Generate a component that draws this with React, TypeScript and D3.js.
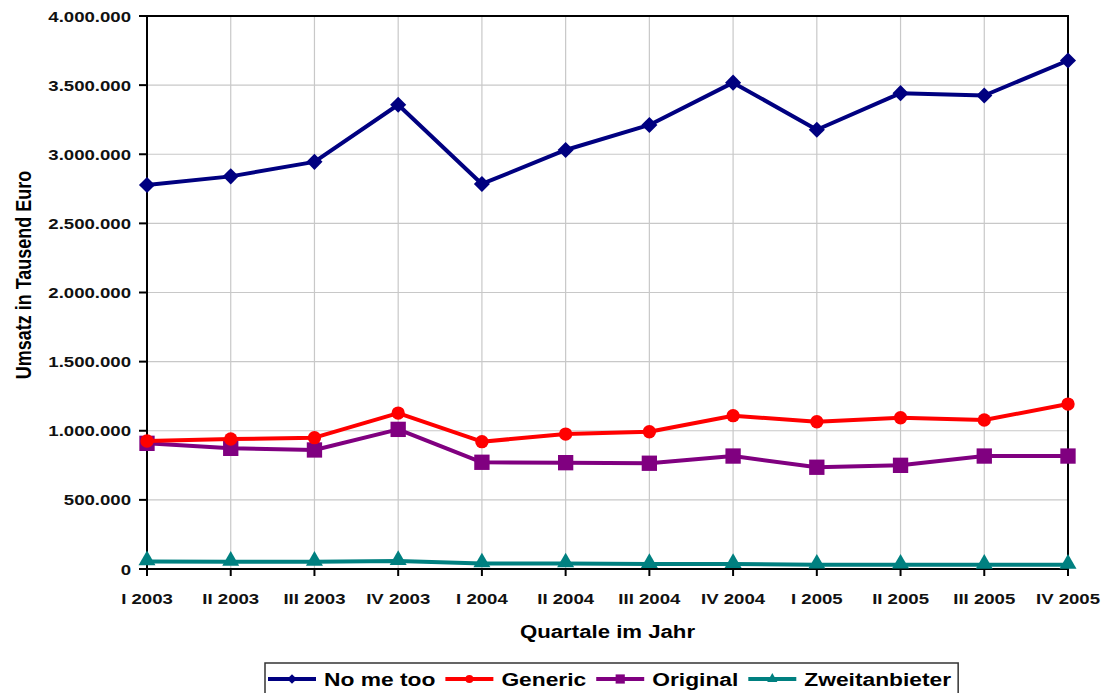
import { useEffect, useRef } from "react";
import * as d3 from "d3";

const quarters = [
  "I 2003", "II 2003", "III 2003", "IV 2003",
  "I 2004", "II 2004", "III 2004", "IV 2004",
  "I 2005", "II 2005", "III 2005", "IV 2005",
];
const noMeToo = [2778000, 2840000, 2945000, 3358000, 2785000, 3031000, 3212000, 3518000, 3177000, 3442000, 3425000, 3678000];
const generic = [926000, 940000, 950000, 1128000, 921000, 976000, 993000, 1109000, 1065000, 1094000, 1078000, 1193000];
const original = [909000, 873000, 861000, 1010000, 772000, 769000, 765000, 817000, 736000, 750000, 817000, 817000];
const zweitanbieter = [55000, 52000, 52000, 58000, 40000, 40000, 36000, 36000, 31000, 31000, 30000, 30000];
const yTicks = [0, 500000, 1000000, 1500000, 2000000, 2500000, 3000000, 3500000, 4000000];

const seriesNames = ["No me too", "Generic", "Original", "Zweitanbieter"];
const seriesValues = [noMeToo, generic, original, zweitanbieter];
const seriesColors = ["#000080", "#ff0000", "#800080", "#008080"];

const W = 1111;
const H = 693;
const SX = 1.2; // the source image is stretched horizontally
const FONT = "'Liberation Sans', Arial, sans-serif";

const de = d3.formatLocale({ decimal: ",", thousands: ".", grouping: [3], currency: ["", " €"] });
const fmt = de.format(",d");

function markerPath(i: number, big: boolean) {
  const k = big ? 1 : 0.6;
  if (i === 0) return d3.symbol(d3.symbolDiamond2, 165 * k * k)()!;
  if (i === 1) return d3.symbol(d3.symbolCircle, 140 * k * k)()!;
  if (i === 2) return d3.symbol(d3.symbolSquare, 235 * k * k)()!;
  return d3.symbol(d3.symbolTriangle, 125 * k * k)()!;
}

export default function App() {
  const svgRef = useRef<SVGSVGElement>(null);

  useEffect(() => {
    if (!svgRef.current) return;
    const svg = d3.select(svgRef.current);
    svg.selectAll("*").remove();

    const margin = { top: 16, right: 43, bottom: 124, left: 147 };
    const x = d3.scalePoint<string>().domain(quarters).range([margin.left, W - margin.right]);
    const y = d3.scaleLinear().domain([0, 4000000]).range([H - margin.bottom, margin.top]);

    svg.append("rect").attr("width", W).attr("height", H).attr("fill", "#fff");

    // Grid lines
    svg.append("g").selectAll("line")
      .data(yTicks).enter().append("line")
      .attr("x1", margin.left).attr("x2", W - margin.right)
      .attr("y1", (d) => y(d)).attr("y2", (d) => y(d))
      .attr("stroke", "#c8c8c8").attr("stroke-width", 1.2);
    svg.append("g").selectAll("line")
      .data(quarters).enter().append("line")
      .attr("x1", (d) => x(d)!).attr("x2", (d) => x(d)!)
      .attr("y1", margin.top).attr("y2", y(0))
      .attr("stroke", "#c8c8c8").attr("stroke-width", 1.2);

    // Frame
    svg.append("rect")
      .attr("x", margin.left).attr("y", margin.top)
      .attr("width", W - margin.right - margin.left).attr("height", y(0) - margin.top)
      .attr("fill", "none").attr("stroke", "#000").attr("stroke-width", 2);

    // Y axis
    const yAxis = svg.append("g");
    yAxis.selectAll("line").data(yTicks).enter().append("line")
      .attr("x1", margin.left - 8).attr("x2", margin.left)
      .attr("y1", (d) => y(d)).attr("y2", (d) => y(d))
      .attr("stroke", "#000").attr("stroke-width", 2);
    yAxis.selectAll("text").data(yTicks).enter().append("text")
      .attr("transform", (d) => `translate(${margin.left - 16},${y(d)}) scale(${SX},1)`)
      .attr("dy", "0.36em").attr("text-anchor", "end")
      .attr("font-family", FONT).attr("font-size", "15.5px").attr("font-weight", "700").attr("fill", "#111")
      .text((d) => fmt(d));

    // X axis
    const xAxis = svg.append("g");
    xAxis.selectAll("line").data(quarters).enter().append("line")
      .attr("x1", (d) => x(d)!).attr("x2", (d) => x(d)!)
      .attr("y1", y(0)).attr("y2", y(0) + 7)
      .attr("stroke", "#000").attr("stroke-width", 2);
    xAxis.selectAll("text").data(quarters).enter().append("text")
      .attr("transform", (d) => `translate(${x(d)},${y(0) + 35}) scale(${SX},1)`)
      .attr("text-anchor", "middle")
      .attr("font-family", FONT).attr("font-size", "15.5px").attr("font-weight", "700").attr("fill", "#111")
      .text((d) => d);

    // Axis titles
    svg.append("text")
      .attr("transform", `translate(${(margin.left + W - margin.right) / 2},638) scale(${SX},1)`)
      .attr("text-anchor", "middle")
      .attr("font-family", FONT).attr("font-size", "18.5px").attr("font-weight", "700").attr("fill", "#000")
      .text("Quartale im Jahr");
    svg.append("text")
      .attr("transform", `translate(31,275) rotate(-90) scale(1,${SX})`)
      .attr("text-anchor", "middle")
      .attr("font-family", FONT).attr("font-size", "18px").attr("font-weight", "700").attr("fill", "#000")
      .text("Umsatz in Tausend Euro");

    // Lines and markers (draw bottom series first so No me too lies on top)
    const line = d3.line<number>().x((_, i) => x(quarters[i])!).y((d) => y(d));
    const order = [3, 2, 1, 0];
    order.forEach((s) => {
      const g = svg.append("g");
      g.append("path").datum(seriesValues[s])
        .attr("d", line).attr("fill", "none")
        .attr("stroke", seriesColors[s]).attr("stroke-width", 4).attr("stroke-linejoin", "round");
      g.selectAll("path.m").data(seriesValues[s]).enter().append("path")
        .attr("class", "m")
        .attr("transform", (d, i) => `translate(${x(quarters[i])},${y(d) + (s === 3 ? -1 : 0)})`)
        .attr("d", markerPath(s, true)).attr("fill", seriesColors[s]);
    });

    // Legend
    const legend = svg.append("g");
    const lx0 = 265;
    const ly = 679;
    const sample = 48;
    let cx = lx0 + 3;
    seriesNames.forEach((name, s) => {
      legend.append("line")
        .attr("x1", cx).attr("x2", cx + sample).attr("y1", ly).attr("y2", ly)
        .attr("stroke", seriesColors[s]).attr("stroke-width", 4);
      legend.append("path")
        .attr("transform", `translate(${cx + sample / 2},${ly})`)
        .attr("d", markerPath(s, false)).attr("fill", seriesColors[s]);
      const t = legend.append("text")
        .attr("transform", `translate(${cx + sample + 8},${ly}) scale(${SX},1)`)
        .attr("dy", "0.36em")
        .attr("font-family", FONT).attr("font-size", "19px").attr("font-weight", "700").attr("fill", "#000")
        .text(name);
      const w = (t.node() as SVGTextElement).getComputedTextLength() * SX;
      cx += sample + 8 + w + 10;
    });
    legend.insert("rect", ":first-child")
      .attr("x", lx0).attr("y", 663)
      .attr("width", cx - lx0 - 3).attr("height", 40)
      .attr("fill", "#fff").attr("stroke", "#333").attr("stroke-width", 1.5);
  }, []);

  return (
    <div style={{ position: "absolute", left: 0, top: 0, width: W, height: H }}>
      <svg ref={svgRef} width={W} height={H} style={{ display: "block" }} />
    </div>
  );
}
